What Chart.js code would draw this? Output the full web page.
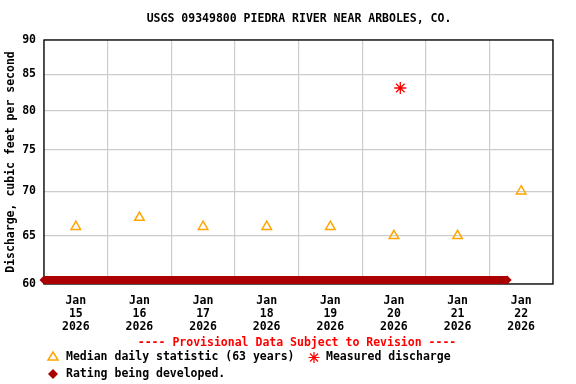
<!DOCTYPE html>
<html>
<head>
<meta charset="utf-8">
<script src="https://cdn.jsdelivr.net/npm/chart.js@4.4.1/dist/chart.umd.min.js"></script>
<style>
  html, body { margin: 0; padding: 0; background: #fff; }
  #wrap { width: 576px; height: 384px; position: relative; }
</style>
</head>
<body>
<div id="wrap"><canvas id="chart" width="576" height="384"></canvas></div>
<script>
// ---- data (x = days since Jan 15 2026 00:00) ----
var titleText = 'USGS 09349800 PIEDRA RIVER NEAR ARBOLES, CO.';
var yTitle = 'Discharge, cubic feet per second';
var tickDays = [0.5, 1.5, 2.5, 3.5, 4.5, 5.5, 6.5, 7.5];
var tickLabels = [
    ['Jan', '15', '2026'], ['Jan', '16', '2026'], ['Jan', '17', '2026'], ['Jan', '18', '2026'],
    ['Jan', '19', '2026'], ['Jan', '20', '2026'], ['Jan', '21', '2026'], ['Jan', '22', '2026']
];
var gridDays = [0, 1, 2, 3, 4, 5, 6, 7, 8];
var yTicks = [60, 65, 70, 75, 80, 85, 90];

var medianDays = [0.5, 1.5, 2.5, 3.5, 4.5, 5.5, 6.5, 7.5];
var medianValues = [66, 67, 66, 66, 66, 65, 65, 70];

var measuredDays = [5.6];
var measuredValues = [83.1];

var ratingDays = [0, 7.28];
var ratingValues = [60.4, 60.4];

var FONT = '"DejaVu Sans Mono", "Liberation Mono", monospace';
var FSIZE = 11.5;

function toPoints(xs, ys) {
    var out = [];
    for (var i = 0; i < xs.length; i++) out.push({ x: xs[i], y: ys[i] });
    return out;
}

// Frame, title, notice and legend
var extras = {
    id: 'extras',
    beforeDatasetsDraw: function (chart) {
        var ctx = chart.ctx, a = chart.chartArea;
        ctx.save();
        ctx.strokeStyle = '#000';
        ctx.lineWidth = 1.3;
        ctx.strokeRect(a.left, a.top, a.right - a.left, a.bottom - a.top);
        ctx.restore();
    },
    afterDraw: function (chart) {
        var ctx = chart.ctx;
        ctx.save();
        ctx.font = 'bold ' + FSIZE + 'px ' + FONT;
        ctx.textBaseline = 'middle';

        ctx.fillStyle = '#000';
        ctx.textAlign = 'center';
        ctx.fillText(titleText, 299, 19);

        ctx.fillStyle = '#ff0000';
        ctx.fillText('---- Provisional Data Subject to Revision ----', 297, 343.5);

        ctx.textAlign = 'left';
        ctx.fillStyle = '#000';
        ctx.fillText('Median daily statistic (63 years)', 66, 357.5);
        ctx.fillText('Measured discharge', 326, 357.5);
        ctx.fillText('Rating being developed.', 66, 374);

        // triangle
        ctx.strokeStyle = '#ffa500';
        ctx.lineWidth = 1.5;
        ctx.beginPath();
        ctx.moveTo(53, 352);
        ctx.lineTo(58, 360);
        ctx.lineTo(48, 360);
        ctx.closePath();
        ctx.stroke();

        // asterisk
        ctx.strokeStyle = '#ff0000';
        ctx.lineWidth = 1.2;
        ctx.beginPath();
        ctx.moveTo(314, 352); ctx.lineTo(314, 363);
        ctx.moveTo(308.5, 357.5); ctx.lineTo(319.5, 357.5);
        ctx.moveTo(310, 353.5); ctx.lineTo(318, 361.5);
        ctx.moveTo(318, 353.5); ctx.lineTo(310, 361.5);
        ctx.stroke();

        // diamond
        ctx.fillStyle = '#aa0000';
        ctx.beginPath();
        ctx.moveTo(53, 369); ctx.lineTo(58, 374); ctx.lineTo(53, 379); ctx.lineTo(48, 374);
        ctx.closePath();
        ctx.fill();
        ctx.restore();
    }
};

new Chart(document.getElementById('chart'), {
    type: 'scatter',
    data: {
        datasets: [
            {
                label: 'Rating being developed.',
                data: toPoints(ratingDays, ratingValues),
                showLine: true,
                clip: 6,
                borderColor: '#aa0000',
                backgroundColor: '#aa0000',
                borderWidth: 8,
                pointStyle: 'rectRot',
                pointRadius: 4.5,
                pointBorderWidth: 0,
                order: 3
            },
            {
                label: 'Median daily statistic (63 years)',
                data: toPoints(medianDays, medianValues),
                pointStyle: 'triangle',
                pointRadius: 5.5,
                borderColor: '#ffa500',
                backgroundColor: 'rgba(255,255,255,0)',
                borderWidth: 1.5,
                order: 2
            },
            {
                label: 'Measured discharge',
                data: toPoints(measuredDays, measuredValues),
                pointStyle: 'star',
                pointRadius: 6,
                borderColor: '#ff0000',
                backgroundColor: '#ff0000',
                borderWidth: 1.3,
                order: 1
            }
        ]
    },
    options: {
        responsive: false,
        animation: false,
        layout: { padding: { left: 0, right: 23, top: 40, bottom: 0 } },
        plugins: {
            legend: { display: false },
            tooltip: { enabled: false },
            title: { display: false }
        },
        scales: {
            x: {
                type: 'linear',
                min: 0,
                max: 8,
                afterBuildTicks: function (axis) {
                    axis.ticks = tickDays.map(function (v) { return { value: v }; });
                },
                afterFit: function (axis) { axis.height = 100; },
                grid: { display: false },
                border: { display: false },
                ticks: {
                    padding: 2,
                    maxRotation: 0,
                    autoSkip: false,
                    color: '#000',
                    font: { family: FONT, size: FSIZE, weight: 'bold', lineHeight: 1.14 },
                    callback: function (v) {
                        var i = tickDays.indexOf(v);
                        return i >= 0 ? tickLabels[i] : '';
                    }
                }
            },
            xgrid: {
                type: 'linear',
                axis: 'x',
                position: 'bottom',
                min: 0,
                max: 8,
                afterBuildTicks: function (axis) {
                    axis.ticks = gridDays.map(function (v) { return { value: v }; });
                },
                afterFit: function (axis) { axis.height = 0; },
                grid: { color: '#cccccc', lineWidth: 1.2, drawTicks: false },
                border: { display: false },
                ticks: { display: false }
            },
            y: {
                type: 'logarithmic',
                min: 60,
                max: 90,
                afterBuildTicks: function (axis) {
                    axis.ticks = yTicks.map(function (v) { return { value: v }; });
                },
                afterFit: function (axis) { axis.width = 44; },
                grid: { color: '#cccccc', lineWidth: 1.2, drawTicks: false },
                border: { display: false },
                title: {
                    display: true,
                    text: yTitle,
                    color: '#000',
                    padding: { top: 4, bottom: 0 },
                    font: { family: FONT, size: FSIZE, weight: 'bold' }
                },
                ticks: {
                    padding: 8,
                    color: '#000',
                    font: { family: FONT, size: FSIZE, weight: 'bold' },
                    callback: function (v) { return String(v); }
                }
            }
        }
    },
    plugins: [extras]
});
</script>
</body>
</html>
